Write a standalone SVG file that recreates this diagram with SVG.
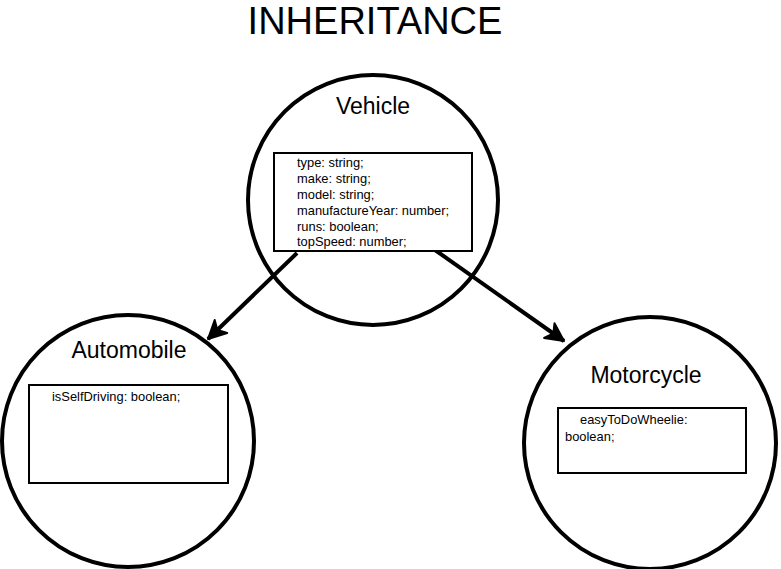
<svg xmlns="http://www.w3.org/2000/svg" width="781" height="569" viewBox="0 0 781 569">
<defs>
<style>
.circ{fill:none;stroke:#000;stroke-width:4}
.box{fill:#fff;stroke:#000;stroke-width:2}
.title{font-family:"Liberation Sans",Arial,sans-serif;font-size:38px;fill:#000}
.name{font-family:"Liberation Sans",Arial,sans-serif;font-size:23px;fill:#000}
.attr{font-family:"Liberation Sans",Arial,sans-serif;font-size:12.9px;fill:#000}
.conn{fill:none;stroke:#000;stroke-width:4}
</style>
<marker id="arrow" markerUnits="userSpaceOnUse" markerWidth="24" markerHeight="24" viewBox="0 0 24 24" refX="20" refY="12" orient="auto">
<path d="M2,3 L20,12 L2,21 L7,12 Z" fill="#000" stroke="#000" stroke-width="2" stroke-linejoin="round"/>
</marker>
</defs>
<rect width="781" height="569" fill="#fff"/>
<text class="title" x="375" y="34" text-anchor="middle">INHERITANCE</text>
<g id="connectors">
<line class="conn" x1="297" y1="253" x2="208" y2="339" marker-end="url(#arrow)"/>
<line class="conn" x1="435" y1="250" x2="564" y2="341" marker-end="url(#arrow)"/>
</g>
<g id="vehicle">
<circle class="circ" cx="373" cy="200" r="125"/>
<text class="name" x="373" y="114" text-anchor="middle">Vehicle</text>
<rect class="box" x="274" y="153" width="198" height="98"/>
<text class="attr" x="297" y="167">type: string;</text>
<text class="attr" x="297" y="183">make: string;</text>
<text class="attr" x="297" y="199">model: string;</text>
<text class="attr" x="297" y="215">manufactureYear: number;</text>
<text class="attr" x="297" y="231">runs: boolean;</text>
<text class="attr" x="297" y="246">topSpeed: number;</text>
</g>
<g id="automobile">
<circle class="circ" cx="128" cy="441" r="126"/>
<text class="name" x="129" y="358" text-anchor="middle">Automobile</text>
<rect class="box" x="29" y="385" width="199" height="98"/>
<text class="attr" x="52" y="401">isSelfDriving: boolean;</text>
</g>
<g id="motorcycle">
<circle class="circ" cx="650" cy="443" r="126"/>
<text class="name" x="646" y="383" text-anchor="middle">Motorcycle</text>
<rect class="box" x="558" y="408" width="188" height="65"/>
<text class="attr" x="580" y="424">easyToDoWheelie:</text>
<text class="attr" x="565" y="441">boolean;</text>
</g>
</svg>
